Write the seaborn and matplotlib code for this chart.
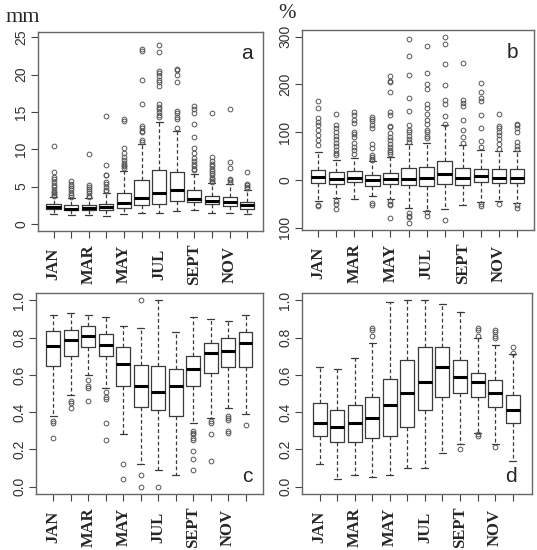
import matplotlib
matplotlib.use("Agg")
import matplotlib.pyplot as plt
import seaborn as sns

months = ["JAN", "FEB", "MAR", "APR", "MAY", "JUN", "JUL", "AUG", "SEPT", "OCT", "NOV", "DEC"]
month_labels = ["JAN", "", "MAR", "", "MAY", "", "JUL", "", "SEPT", "", "NOV", ""]

# panel a (mm)
a_q1 = [1.96, 1.8, 1.8, 1.8, 2.1, 2.5, 2.7, 3.1, 2.9, 2.6, 2.4, 2.0]
a_med = [2.2, 2.0, 2.1, 2.2, 2.8, 3.5, 4.2, 4.6, 3.4, 3.1, 2.9, 2.5]
a_q3 = [2.68, 2.5, 2.55, 2.7, 4.1, 5.9, 7.2, 7.0, 4.6, 3.8, 3.6, 3.0]
a_lo = [1.3, 1.2, 1.2, 1.1, 1.3, 1.4, 1.5, 1.7, 1.8, 1.4, 1.5, 1.3]
a_hi = [3.6, 3.5, 3.5, 4.2, 7.1, 10.7, 13.7, 12.4, 6.7, 5.5, 5.3, 4.6]
a_out = [
    [3.7, 3.9, 4.1, 4.3, 4.6, 4.9, 5.2, 5.6, 6.0, 6.3, 6.9, 10.4],
    [3.6, 3.9, 4.2, 4.5, 4.8, 5.1, 5.4, 5.7],
    [3.6, 3.8, 4.1, 4.4, 4.7, 5.0, 5.2, 9.3],
    [4.4, 4.6, 5.0, 5.4, 5.6, 6.5, 6.6, 7.9, 14.5],
    [7.5, 7.7, 7.9, 8.2, 8.5, 8.9, 9.5, 10.2, 13.8, 14.1],
    [11.0, 11.2, 12.3, 12.5, 12.9, 13.1, 16.0, 19.3, 23.1, 23.4],
    [14.3, 14.6, 15.0, 15.4, 15.7, 16.0, 18.5, 19.0, 19.3, 19.8, 20.2, 20.5, 23.0, 24.0],
    [12.8, 14.1, 14.3, 14.9, 15.1, 19.0, 19.9, 20.6, 20.8],
    [7.2, 7.4, 7.7, 8.0, 8.4, 8.8, 9.5, 10.1, 11.7, 13.4, 14.8, 15.4, 15.8],
    [5.6, 5.8, 6.0, 6.2, 6.5, 6.8, 7.1, 7.4, 7.7, 8.0, 8.4, 8.9, 14.8],
    [5.6, 5.9, 6.0, 7.5, 8.3, 15.4],
    [4.8, 5.0, 5.2, 5.4, 7.0],
]

# panel b (%)
b_q1 = [-7, -8, -5, -12, -8, -10, -12, -8, -10, -5, -7, -7]
b_med = [6, 1, 4, -1, 2, 2, 5, 13, 4, 8, 5, 5]
b_q3 = [20, 16, 18, 11, 15, 25, 26, 40, 24, 23, 22, 22]
b_lo = [-45, -37, -40, -33, -41, -58, -65, -61, -53, -47, -44, -48]
b_hi = [58, 41, 46, 40, 47, 76, 78, 114, 73, 62, 60, 61]
b_out = [
    [74, 84, 95, 105, 115, 122, 130, 150, 165, -52, -55],
    [52, 56, 62, 70, 78, 86, 92, 100, 108, 115, 138, -45, -50, -60],
    [55, 62, 68, 78, 90, 97, 100, 120, 125, 135, 142],
    [42, 44, 48, 52, 66, 75, 108, 115, 123, 128, 132, -48, -53],
    [54, 58, 62, 68, 75, 83, 90, 98, 110, 113, 135, 142, 185, 205, 208, 218, -45, -50, -53, -80],
    [80, 85, 92, 100, 105, 115, 145, 172, 220, 260, 295, -70, -75, -78, -90],
    [88, 92, 100, 105, 118, 125, 138, 150, 160, 190, 200, 225, 280, -68, -75],
    [118, 133, 160, 168, 198, 242, 285, 300, -83],
    [78, 90, 105, 125, 155, 162, 168, 245],
    [68, 82, 108, 135, 165, 172, 185, 203, -50, -55],
    [65, 75, 85, 95, 100, 108, 112, 138, -50],
    [65, 72, 80, 100, 108, 115, 118, -52, -58],
]

# panel c
c_q1 = [0.648, 0.70, 0.75, 0.70, 0.54, 0.43, 0.41, 0.38, 0.54, 0.61, 0.64, 0.64]
c_med = [0.757, 0.79, 0.81, 0.76, 0.66, 0.54, 0.51, 0.54, 0.63, 0.72, 0.73, 0.77]
c_q3 = [0.837, 0.84, 0.86, 0.82, 0.75, 0.655, 0.65, 0.63, 0.70, 0.77, 0.80, 0.83]
c_lo = [0.38, 0.49, 0.60, 0.53, 0.28, 0.12, 0.09, 0.06, 0.34, 0.37, 0.42, 0.39]
c_hi = [0.92, 0.93, 0.92, 0.91, 0.86, 0.85, 1.0, 0.83, 0.91, 0.90, 0.89, 0.92]
c_out = [
    [0.35, 0.34, 0.26],
    [0.46, 0.45, 0.42],
    [0.57, 0.54, 0.53, 0.46],
    [0.51, 0.48, 0.47, 0.34, 0.25],
    [0.12, 0.04],
    [1.0, 0.06, 0.0],
    [0.0],
    [],
    [0.30, 0.29, 0.28, 0.26, 0.25, 0.19, 0.15, 0.09],
    [0.35, 0.34, 0.28, 0.14],
    [0.38, 0.37, 0.36, 0.30, 0.29],
    [0.33],
]

# panel d
d_q1 = [0.27, 0.24, 0.24, 0.26, 0.27, 0.32, 0.41, 0.48, 0.50, 0.48, 0.43, 0.34]
d_med = [0.34, 0.32, 0.34, 0.37, 0.44, 0.50, 0.56, 0.64, 0.59, 0.56, 0.50, 0.41]
d_q3 = [0.45, 0.41, 0.44, 0.48, 0.58, 0.68, 0.75, 0.75, 0.68, 0.61, 0.57, 0.49]
d_lo = [0.12, 0.04, 0.06, 0.05, 0.06, 0.10, 0.10, 0.18, 0.23, 0.29, 0.23, 0.14]
d_hi = [0.64, 0.63, 0.69, 0.77, 0.99, 1.0, 1.0, 0.98, 0.94, 0.80, 0.76, 0.71]
d_out = [
    [], [], [], [0.81, 0.84, 0.85], [], [], [], [],
    [0.20],
    [0.81, 0.84, 0.85, 0.28, 0.27],
    [0.80, 0.81, 0.83, 0.84, 0.21],
    [0.72, 0.75],
]


def make_stats(q1, med, q3, lo, hi, out):
    stats = []
    for i in range(len(months)):
        stats.append({"label": months[i], "q1": q1[i], "med": med[i], "q3": q3[i],
                      "whislo": lo[i], "whishi": hi[i], "fliers": out[i]})
    return stats


def draw_panel(ax, stats, ylim, yticks, yticklabels, xlim, letter, lx, ly):
    ax.bxp(stats, positions=range(1, 13), widths=0.8, capwidths=0.4,
           boxprops=dict(color="#3a3a3a", linewidth=0.9),
           medianprops=dict(color="black", linewidth=2.2, solid_capstyle="butt"),
           whiskerprops=dict(color="#3a3a3a", linewidth=0.9, linestyle=(0, (3, 2))),
           capprops=dict(color="#3a3a3a", linewidth=0.9),
           flierprops=dict(marker="o", markerfacecolor="none", markeredgecolor="#555555",
                           markersize=3.4, markeredgewidth=0.7))
    ax.set_xlim(*xlim)
    ax.set_ylim(*ylim)
    ax.set_xticks(range(1, 13))
    ax.set_xticklabels(month_labels, rotation=90, va="center", ha="center",
                       fontfamily="Liberation Serif", fontweight="bold", fontsize=12)
    ax.set_yticks(yticks)
    ax.set_yticklabels(yticklabels, rotation=90, va="center", ha="right",
                       fontfamily="Liberation Sans", fontsize=10, color="#333333")
    ax.tick_params(axis="x", bottom=True, direction="out", length=5, width=0.8,
                   color="#444444", pad=19)
    ax.tick_params(axis="y", left=True, direction="out", length=5, width=0.8,
                   color="#444444", pad=2)
    for sp in ax.spines.values():
        sp.set_visible(True)
        sp.set_color("#666666")
        sp.set_linewidth(1.0)
    ax.text(lx, ly, letter, transform=ax.transAxes, ha="center", va="center",
            fontfamily="Liberation Sans", fontsize=15)


sns.set_style("white")

fig = plt.figure(figsize=(5.37, 5.5), dpi=100)
ax_a = fig.add_axes([0.0708, 0.58, 0.419, 0.3618])
ax_b = fig.add_axes([0.5624, 0.5818, 0.432, 0.3636])
ax_c = fig.add_axes([0.067, 0.1018, 0.4227, 0.3655])
ax_d = fig.add_axes([0.5624, 0.1018, 0.4283, 0.3655])

draw_panel(ax_a, make_stats(a_q1, a_med, a_q3, a_lo, a_hi, a_out), (-0.95, 25.7),
           [0, 5, 10, 15, 20, 25], ["0", "5", "10", "15", "20", "25"], (0.12, 12.9), "a", 0.929, 0.894)
draw_panel(ax_b, make_stats(b_q1, b_med, b_q3, b_lo, b_hi, b_out), (-105, 314),
           [-100, 0, 100, 200, 300], ["100", "0", "100", "200", "300"], (0.1, 12.95), "b", 0.905, 0.89)
draw_panel(ax_c, make_stats(c_q1, c_med, c_q3, c_lo, c_hi, c_out), (-0.04, 1.04),
           [0, 0.2, 0.4, 0.6, 0.8, 1.0], ["0.0", "0.2", "0.4", "0.6", "0.8", "1.0"], (0.0, 13.0), "c", 0.93, 0.085)
draw_panel(ax_d, make_stats(d_q1, d_med, d_q3, d_lo, d_hi, d_out), (-0.04, 1.04),
           [0, 0.2, 0.4, 0.6, 0.8, 1.0], ["0.0", "0.2", "0.4", "0.6", "0.8", "1.0"], (0.0, 13.1), "d", 0.909, 0.085)

fig.text(23 / 537, 1 - 17 / 550, "mm", ha="center", va="center",
         fontfamily="Liberation Serif", fontsize=16)
fig.text(287 / 537, 1 - 13 / 550, "%", ha="center", va="center",
         fontfamily="Liberation Serif", fontsize=15)

fig.savefig("out.png", dpi=100)
